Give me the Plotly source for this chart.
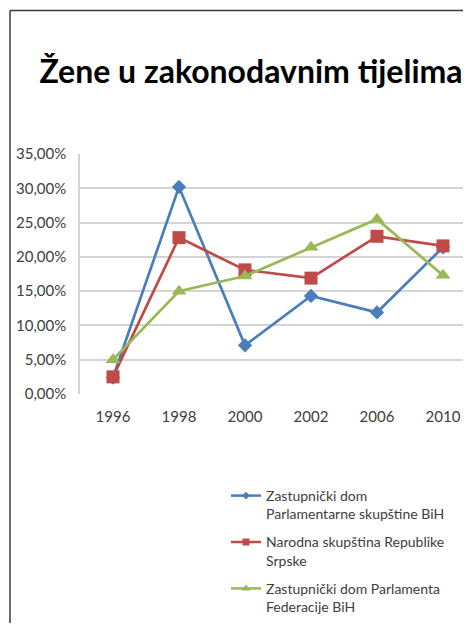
import plotly.graph_objects as go

categories = ["1996", "1998", "2000", "2002", "2006", "2010"]
parl_bih = [0.024, 0.302, 0.071, 0.143, 0.119, 0.214]
nar_rs = [0.025, 0.228, 0.181, 0.169, 0.230, 0.216]
parl_fbih = [0.050, 0.150, 0.172, 0.214, 0.255, 0.173]
names = ["Zastupnički dom<br>Parlamentarne skupštine BiH",
         "Narodna skupština Republike<br>Srpske",
         "Zastupnički dom Parlamenta<br>Federacije BiH"]
colors = ["#4A7EBB", "#BE4B48", "#98B954"]
symbols = ["diamond", "square", "triangle-up"]
sizes = [11, 13, 13]
legend_sizes = [6, 7, 8]

# the page has an 8px body margin; figure sized to fit the window
W, H = 455, 615
L, R, T, B = 72, 0, 146, 228
pw, ph = W - L - R, H - T - B

def px(x):
    return (x - L) / pw

def py(y):
    return (H - B - y) / ph

fig = go.Figure()
for i, (vals, n, c, s, sz) in enumerate(zip([parl_bih, nar_rs, parl_fbih], names, colors, symbols, sizes)):
    fig.add_trace(go.Scatter(x=categories, y=vals, name=n, mode="lines+markers",
                             showlegend=False, legendgroup=f"g{i}",
                             line=dict(color=c, width=2.7),
                             marker=dict(symbol=s, size=sz, color=c)))
for i, (n, c, s, sz) in enumerate(zip(names, colors, symbols, legend_sizes)):
    fig.add_trace(go.Scatter(x=[None], y=[None], name=n, mode="lines+markers",
                             legendgroup=f"g{i}",
                             line=dict(color=c, width=2.5),
                             marker=dict(symbol=s, size=sz, color=c)))

fig.update_layout(
    width=W, height=H,
    margin=dict(l=L, r=R, t=T, b=B),
    paper_bgcolor="white", plot_bgcolor="white",
    font=dict(family="Lato", size=14, color="#404040"),
    separators=", ",
    title=dict(text="<b>Žene u zakonodavnim tijelima</b>", x=243 / W, xanchor="center",
               xref="container", yref="container", y=1 - 64 / H, yanchor="middle",
               font=dict(family="Lato", size=32, color="black")),
    showlegend=True,
    legend=dict(x=px(218), y=py(473), xanchor="left", yanchor="top",
                font=dict(family="Lato", size=14, color="#404040"),
                traceorder="grouped",
                valign="top", tracegroupgap=7, itemwidth=30, bgcolor="rgba(0,0,0,0)"),
    xaxis=dict(type="category", range=[-0.5, -0.5 + pw / 66.0], showgrid=False,
               showline=False, ticks="", tickfont=dict(size=15, color="#404040"),
               zeroline=False, ticklabelstandoff=12),
    yaxis=dict(range=[0, 0.35], dtick=0.05, tickformat=".2%", showgrid=True,
               gridcolor="#D4D4D4", gridwidth=1.5, showline=True, linecolor="#D4D4D4",
               linewidth=1.5, ticks="", zeroline=False, ticklabelstandoff=9,
               tickfont=dict(size=15, color="#404040")),
    shapes=[
        dict(type="line", xref="paper", yref="paper", x0=px(2), x1=px(2), y0=py(H + 5), y1=py(2),
             line=dict(color="#3A3A3A", width=1.5)),
        dict(type="line", xref="paper", yref="paper", x0=px(2), x1=px(W + 5), y0=py(2), y1=py(2),
             line=dict(color="#3A3A3A", width=1.5)),
    ],
)

fig.write_html("out.html")
